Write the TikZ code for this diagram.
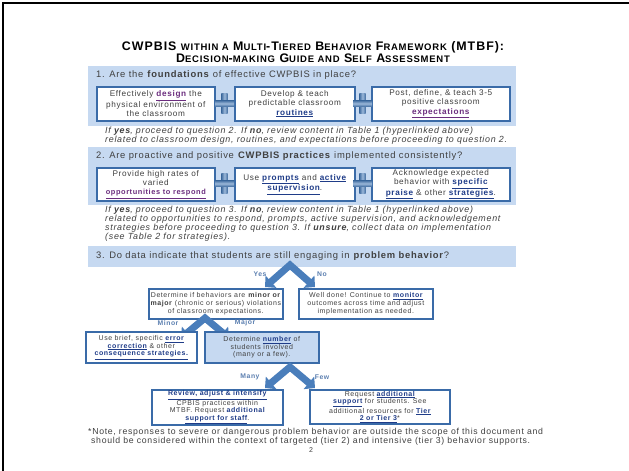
\documentclass[tikz,border=0pt]{standalone}
\usepackage{fontspec}
\setmainfont{Liberation Sans}[LetterSpace=8]
\usetikzlibrary{arrows.meta,calc}
\definecolor{bandfill}{HTML}{C6D9F1}
\definecolor{boxline}{HTML}{3A6BA8}
\definecolor{linkblue}{HTML}{1F3C88}
\definecolor{linkpurple}{HTML}{6B2D7E}
\definecolor{lblcol}{HTML}{5B7FB0}
\definecolor{arrowblue}{HTML}{4A7EBB}
\definecolor{txt}{HTML}{404040}
\newcommand{\lnk}[1]{\textcolor{linkblue}{\bfseries\underline{#1}}}
\newcommand{\lnkp}[1]{\textcolor{linkpurple}{\bfseries\underline{#1}}}
\newcommand{\fsc}[1]{{\fontsize{9.5}{10}\selectfont\MakeUppercase{#1}}}
\tikzset{
  stepbox/.style={draw=boxline, line width=1.6pt, fill=white, align=center,
     font=\fontsize{8.2}{9.4}\selectfont, text=txt, inner sep=1pt, anchor=north west},
  smallbox/.style={stepbox, font=\fontsize{7.0}{7.8}\selectfont},
  question/.style={anchor=west, font=\fontsize{9.4}{10}\selectfont, text=txt, inner sep=0pt},
  para/.style={anchor=north west, align=left, font=\fontsize{8.9}{9}\selectfont\itshape, text=txt, inner sep=0pt},
  branch/.style={font=\fontsize{6.8}{7}\selectfont\bfseries, text=lblcol, inner sep=0pt},
  chev/.style={arrowblue, line width=7pt, line join=miter,
     {Triangle[width=16pt,length=8pt]}-{Triangle[width=16pt,length=8pt]}},
}
\newcommand{\plussign}[3]{%
  \coordinate (#1) at (#2,#3);
  \shade[left color=arrowblue!85!black, right color=arrowblue!85!black, middle color=arrowblue!55!white]
     ($(#1)+(-3.2,-10)$) rectangle ($(#1)+(3.2,10)$);
  \shade[top color=arrowblue!85!black, bottom color=arrowblue!85!black, middle color=arrowblue!55!white]
     ($(#1)+(-9.5,-3.2)$) rectangle ($(#1)+(9.5,3.2)$);
}
\begin{document}
\begin{tikzpicture}[x=1pt,y=-1pt]
\useasboundingbox[fill=white] (0,0) rectangle (629,471);
% frame
\draw[line width=2.8pt] (3,471) -- (3,3) -- (629,3);
% title
\node[font=\fontsize{12.4}{13}\selectfont\bfseries, inner sep=0pt] (title1) at (313,47)
  {CWPBIS \fsc{within a} M\fsc{ulti}-T\fsc{iered} B\fsc{ehavior} F\fsc{ramework} (MTBF):};
\node[font=\fontsize{12.4}{13}\selectfont\bfseries, inner sep=0pt] (title2) at (313,58.5)
  {D\fsc{ecision}-\fsc{making} G\fsc{uide and} S\fsc{elf} A\fsc{ssessment}};
% ---------- section 1
\fill[bandfill] (88,66) rectangle (516,126);
\node[question] (q1) at (96,75) {1. Are the \textbf{foundations} of effective CWPBIS in place?};
\node[stepbox, minimum width=118pt, minimum height=34pt] (d1) at (96,86)
  {Effectively \lnkp{design} the\\physical environment of\\the classroom};
\node[stepbox, minimum width=120pt, minimum height=34pt] (r1) at (234,86)
  {Develop \& teach\\predictable classroom\\\lnk{routines}};
\node[stepbox, minimum width=138pt, minimum height=34pt] (e1) at (371,86)
  {Post, define, \& teach 3-5\\positive classroom\\\lnkp{expectations}};
\plussign{p11}{224.5}{103.5}
\plussign{p12}{362.5}{103.5}
\node[para] (t1) at (105,127)
  {If \textbf{yes}, proceed to question 2. If \textbf{no}, review content in Table 1 (hyperlinked above)\\
   related to classroom design, routines, and expectations before proceeding to question 2.};
% ---------- section 2
\fill[bandfill] (88,147) rectangle (516,205);
\node[question] (q2) at (96,156) {2. Are proactive and positive \textbf{CWPBIS practices} implemented consistently?};
\node[stepbox, minimum width=118pt, minimum height=33pt] (o2) at (96,167)
  {Provide high rates of\\varied\\{\fontsize{7.4}{8}\selectfont\lnkp{opportunities to respond}}};
\node[stepbox, minimum width=120pt, minimum height=33pt] (s2) at (234,167)
  {Use \lnk{prompts} and \lnk{active}\\\lnk{supervision}.};
\node[stepbox, minimum width=138pt, minimum height=33pt] (a2) at (371,167)
  {Acknowledge expected\\behavior with \lnk{specific}\\\lnk{praise} \& other \lnk{strategies}.};
\plussign{p21}{224.5}{183.5}
\plussign{p22}{362.5}{183.5}
\node[para] (t2) at (105,206)
  {If \textbf{yes}, proceed to question 3. If \textbf{no}, review content in Table 1 (hyperlinked above)\\
   related to opportunities to respond, prompts, active supervision, and acknowledgement\\
   strategies before proceeding to question 3. If \textbf{unsure}, collect data on implementation\\
   (see Table 2 for strategies).};
% ---------- section 3
\fill[bandfill] (88,246) rectangle (516,267);
\node[question] (q3) at (96,256) {3. Do data indicate that students are still engaging in \textbf{problem behavior}?};
% chevron 1
\coordinate (c1) at (290,265);
\draw[chev] ($(c1)+(-25,22)$) -- (c1) -- ($(c1)+(25,22)$);
\node[branch] (yes) at (260,274) {Yes};
\node[branch] (no) at (322,274) {No};
\node[smallbox, minimum width=134pt, minimum height=30pt] (mm) at (148,288)
  {Determine if behaviors are \textbf{minor or}\\\textbf{major} (chronic or serious) violations\\of classroom expectations.};
\node[smallbox, minimum width=134pt, minimum height=30pt] (wd) at (298,288)
  {Well done! Continue to \lnk{monitor}\\outcomes across time and adjust\\implementation as needed.};
% chevron 2
\coordinate (c2) at (205,318);
\draw[chev] ($(c2)+(-24,20)$) -- (c2) -- ($(c2)+(24,20)$);
\node[branch] (minor) at (168,323) {Minor};
\node[branch] (major) at (245,323) {Major};
\node[smallbox, minimum width=111pt, minimum height=31pt] (ec) at (85,331)
  {Use brief, specific \lnk{error}\\\lnk{correction} \& other\\\lnk{consequence strategies.}};
\node[smallbox, minimum width=114pt, minimum height=31pt, fill=bandfill] (nb) at (204,331)
  {Determine \lnk{number} of\\students involved\\(many or a few).};
% chevron 3
\coordinate (c3) at (290,367);
\draw[chev] ($(c3)+(-25,21)$) -- (c3) -- ($(c3)+(25,21)$);
\node[branch] (many) at (250,377) {Many};
\node[branch] (few) at (322,377) {Few};
\node[smallbox, font=\fontsize{7.0}{7.5}\selectfont, inner sep=1pt, minimum width=131pt, minimum height=34pt] (ra) at (151,389)
  {\lnk{Review, adjust \& intensify}\\CPBIS practices within\\MTBF. Request \textcolor{linkblue}{\bfseries additional}\\\lnk{support for staff}.};
\node[smallbox, font=\fontsize{7.0}{7.5}\selectfont, inner sep=1pt, minimum width=140pt, minimum height=34pt] (rs) at (309,389)
  {Request \lnk{additional}\\\lnk{support} for students. See\\additional resources for \lnk{Tier}\\\lnk{2 or Tier 3}*};
% note
\node[anchor=north west, align=left, font=\fontsize{8.7}{9.6}\selectfont, text=txt, inner sep=0pt] (note) at (88,427.5)
  {*Note, responses to severe or dangerous problem behavior are outside the scope of this document and\\
   \hspace*{3pt}should be considered within the context of targeted (tier 2) and intensive (tier 3) behavior supports.};
\node[font=\fontsize{7}{8}\selectfont, text=txt] (page) at (311,450) {2};
\end{tikzpicture}
\end{document}
